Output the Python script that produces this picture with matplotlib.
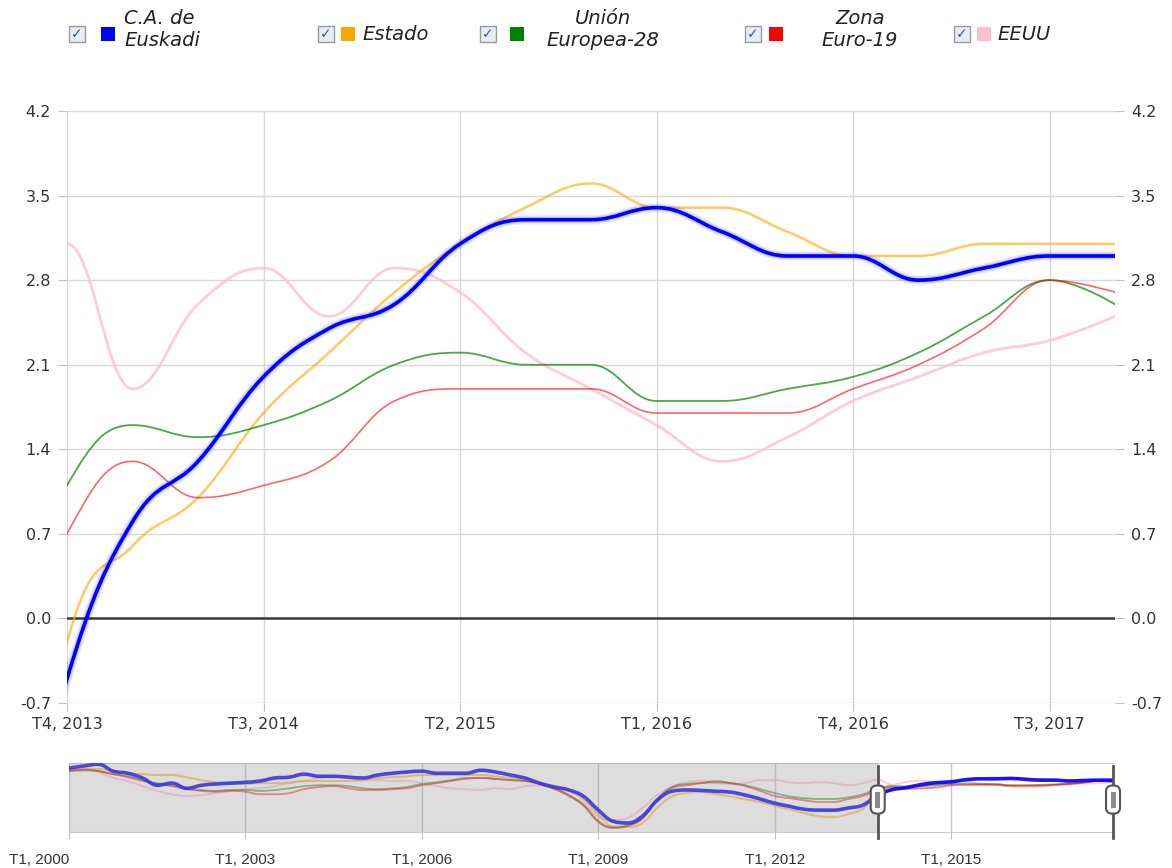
import matplotlib
matplotlib.use("Agg")
import matplotlib.pyplot as plt
from matplotlib.path import Path
from matplotlib.patches import PathPatch, Rectangle, FancyBboxPatch
from matplotlib.transforms import IdentityTransform
import numpy as np

# Crecimiento interanual por trimestre, T1 2000 .. T4 2017 (72 trimestres)
quarters = [f"T{q}, {y}" for y in range(2000, 2018) for q in range(1, 5)]

euskadi = [5.8, 6.3, 6.7, 5.1, 4.6, 3.5, 1.8, 2.3, 1.1, 1.8, 2.1, 2.3, 2.5, 2.8, 3.5, 3.7,
           4.4, 3.9, 3.9, 3.7, 3.5, 4.2, 4.6, 4.9, 5.1, 4.6, 4.6, 4.6, 5.3, 4.9, 4.2, 3.5,
           2.3, 1.4, 0.7, -0.8, -4.0, -6.6, -7.0, -5.4, -1.7, 0.4, 0.7, 0.6, 0.4, 0.2, -0.5, -1.4,
           -2.4, -3.1, -3.8, -4.0, -4.0, -3.5, -2.8,
           -0.5, 0.8, 1.3, 2.0, 2.4, 2.6, 3.1, 3.3, 3.3, 3.4, 3.2, 3.0, 3.0, 2.8, 2.9, 3.0, 3.0]
estado = [5.3, 5.5, 5.6, 5.1, 4.6, 4.4, 4.2, 4.2, 3.7, 3.0, 2.5, 2.3, 2.1, 2.3, 2.3, 2.5,
          2.8, 2.8, 2.8, 2.8, 3.0, 3.5, 3.7, 3.9, 4.2, 4.2, 4.2, 4.2, 4.2, 3.9, 3.5, 3.0,
          2.3, 1.6, 0.5, -1.5, -5.0, -7.8, -7.9, -7.0, -3.5, -0.8, 0.0, 0.2, -0.3, -0.8, -1.5, -2.1,
          -3.0, -3.8, -4.7, -5.4, -5.6, -4.9, -3.6,
          -0.2, 0.6, 1.0, 1.7, 2.2, 2.7, 3.1, 3.4, 3.6, 3.4, 3.4, 3.2, 3.0, 3.0, 3.1, 3.1, 3.1]
ue28 = [5.1, 5.3, 5.1, 4.4, 3.9, 3.0, 2.3, 1.8, 1.1, 0.7, 0.5, 0.7, 0.7, 0.5, 0.7, 1.1,
        1.6, 1.8, 1.8, 1.6, 1.1, 0.9, 1.1, 1.4, 2.1, 2.5, 3.0, 3.5, 3.5, 3.3, 3.0, 2.8,
        2.1, 1.1, -0.5, -2.8, -6.5, -8.0, -7.5, -5.8, -1.5, 1.4, 2.1, 2.3, 2.5, 2.3, 1.8, 0.9,
        0.0, -0.8, -1.2, -1.4, -1.4, -1.0, -0.3,
        1.1, 1.6, 1.5, 1.6, 1.8, 2.1, 2.2, 2.1, 2.1, 1.8, 1.8, 1.9, 2.0, 2.2, 2.5, 2.8, 2.6]
euro19 = [5.3, 5.5, 5.1, 4.4, 3.7, 2.8, 2.1, 1.6, 0.9, 0.5, 0.3, 0.5, 0.3, -0.3, -0.3, 0.0,
          0.9, 1.4, 1.6, 1.1, 0.7, 0.7, 0.9, 1.1, 1.8, 2.3, 2.8, 3.3, 3.5, 3.3, 3.0, 2.8,
          2.1, 0.9, -0.7, -3.0, -6.8, -8.2, -7.7, -6.0, -1.6, 1.1, 1.8, 2.3, 2.8, 2.3, 1.6, 0.5,
          -0.7, -1.2, -1.7, -2.1, -2.1, -1.4, -0.7,
          0.7, 1.3, 1.0, 1.1, 1.3, 1.8, 1.9, 1.9, 1.9, 1.7, 1.7, 1.7, 1.9, 2.1, 2.4, 2.8, 2.7]
eeuu = [5.1, 5.3, 4.9, 3.5, 2.8, 1.6, 0.5, -0.3, -0.7, -0.5, 0.0, 0.5, 0.9, 1.1, 1.6, 2.3,
        2.8, 3.5, 3.9, 3.5, 3.0, 3.0, 2.8, 2.8, 2.3, 1.6, 1.1, 0.9, 0.7, 1.1, 0.9, 1.6,
        1.8, 1.1, -0.5, -2.5, -5.5, -6.3, -5.8, -3.5, -0.5, 1.4, 2.5, 2.8, 2.3, 2.1, 2.3, 3.0,
        3.0, 2.5, 2.3, 2.5, 2.3, 1.8, 2.3,
        3.1, 1.9, 2.6, 2.9, 2.5, 2.9, 2.7, 2.2, 1.9, 1.6, 1.3, 1.5, 1.8, 2.0, 2.2, 2.3, 2.5]

series_names = ["C.A. de Euskadi", "Estado", "Unión Europea-28", "Zona Euro-19", "EEUU"]
series_colors = ["#0000ff", "#ffa500", "#008000", "#ff0000", "#ffc0cb"]

sel_start, sel_end = 55, 71          # T4 2013 .. T4 2017
main_ticks = list(range(55, 71, 3))
nav_ticks = list(range(0, 61, 12))
y_ticks = [-0.7, 0.0, 0.7, 1.4, 2.1, 2.8, 3.5, 4.2]

W, H = 1172, 868


def spline_path(xs, ys, s=1.5):
    # curva suave tipo "spline" (puntos de control como en Highcharts)
    n = len(xs)
    ctrl = []
    for i in range(n):
        x, y = xs[i], ys[i]
        if 0 < i < n - 1:
            lx, ly = xs[i - 1], ys[i - 1]
            nx, ny = xs[i + 1], ys[i + 1]
            lcx, lcy = (s * x + lx) / (s + 1), (s * y + ly) / (s + 1)
            rcx, rcy = (s * x + nx) / (s + 1), (s * y + ny) / (s + 1)
            corr = ((rcy - lcy) * (rcx - x)) / (rcx - lcx) + y - rcy
            lcy += corr
            rcy += corr
            if lcy > ly and lcy > y:
                lcy = max(ly, y); rcy = 2 * y - lcy
            elif lcy < ly and lcy < y:
                lcy = min(ly, y); rcy = 2 * y - lcy
            if rcy > ny and rcy > y:
                rcy = max(ny, y); lcy = 2 * y - rcy
            elif rcy < ny and rcy < y:
                rcy = min(ny, y); lcy = 2 * y - rcy
            ctrl.append(((lcx, lcy), (rcx, rcy)))
        else:
            ctrl.append(((x, y), (x, y)))
    verts = [(xs[0], ys[0])]
    codes = [Path.MOVETO]
    for i in range(1, n):
        verts += [ctrl[i - 1][1], ctrl[i][0], (xs[i], ys[i])]
        codes += [Path.CURVE4] * 3
    return Path(verts, codes)


def draw_series(ax, values, color, lw, alpha=1.0, z=3):
    xs = np.arange(len(values))
    p = PathPatch(spline_path(xs, values), fill=False, ec=color, lw=lw, alpha=alpha,
                  capstyle="round", joinstyle="round", zorder=z)
    ax.add_patch(p)


fig = plt.figure(figsize=(W / 100, H / 100), dpi=100)
plt.rcParams["font.family"] = ["DejaVu Sans"]

# ---- grafico principal
ax = fig.add_axes([67 / W, 1 - 703 / H, 1048 / W, 592 / H])
ax.set_xlim(sel_start, sel_end)
ax.set_ylim(-0.7, 4.2)
for sp in ax.spines.values():
    sp.set_visible(False)
ax.set_axisbelow(True)
ax.grid(color="#d8d8d8", lw=1)
ax.set_yticks(y_ticks)
ax.set_yticklabels([f"{v:.1f}" for v in y_ticks])
ax.set_xticks(main_ticks)
ax.set_xticklabels([quarters[i] for i in main_ticks])
ax.tick_params(axis="y", left=True, right=True, labelleft=True, labelright=True,
               length=6.5, width=0.8, color="#c0c0c0", labelsize=11.5,
               labelcolor="#333333", pad=5)
ax.tick_params(axis="x", length=6, width=0.8, color="#c0c0c0", labelsize=11.5,
               labelcolor="#333333", pad=4)
ax.axhline(0, color="#3a3a3a", lw=1.8, zorder=2)

draw_series(ax, eeuu, series_colors[4], 2.0, 0.8)
draw_series(ax, estado, series_colors[1], 1.8, 0.6)
draw_series(ax, ue28, series_colors[2], 1.3, 0.7)
draw_series(ax, euro19, series_colors[3], 1.2, 0.6)
draw_series(ax, euskadi, series_colors[0], 7, 0.08, z=4)
draw_series(ax, euskadi, series_colors[0], 4.5, 0.15, z=4)
draw_series(ax, euskadi, series_colors[0], 2.6, 1.0, z=5)

# ---- navegador
nav = fig.add_axes([69 / W, 1 - 832 / H, 1044 / W, 69 / H])
nav.set_xlim(0, sel_end)
nav.set_ylim(-9.1, 7.0)
for sp in nav.spines.values():
    sp.set_color("#cccccc")
nav.set_yticks([])
nav.set_xticks(nav_ticks)
nav.set_xticklabels([quarters[i] for i in nav_ticks], family=["Liberation Sans", "DejaVu Sans"])
nav.tick_params(axis="x", length=5, width=0.8, color="#c0c0c0", labelsize=11,
                labelcolor="#333333", pad=10)
nav.get_xticklabels()[0].set_horizontalalignment("right")
nav.grid(axis="x", color="#c8c8c8", lw=1)
nav.set_axisbelow(True)

draw_series(nav, eeuu, series_colors[4], 1.5, 0.8)
draw_series(nav, estado, series_colors[1], 1.5, 0.6)
draw_series(nav, ue28, series_colors[2], 1.3, 0.55)
draw_series(nav, euro19, series_colors[3], 1.3, 0.55)
draw_series(nav, euskadi, series_colors[0], 2.6, 0.9, z=4)
nav.axvspan(0, sel_start, color="#a0a0a0", alpha=0.35, lw=0, zorder=6)

for xv in (sel_start, sel_end):
    nav.axvline(xv, ymin=-0.08, ymax=0.96, color="#555555", lw=2, clip_on=False, zorder=7)
    xd = nav.transData.transform((xv, 0))[0]
    yd = nav.transAxes.transform((0, 0.47))[1]
    fig.add_artist(FancyBboxPatch((xd - 7, yd - 14), 14, 28,
                                  boxstyle="round,pad=0,rounding_size=6",
                                  fc="white", ec="#555555", lw=1.5,
                                  transform=IdentityTransform(), zorder=8))
    fig.add_artist(Rectangle((xd - 2.5, yd - 8), 5, 16, fc="#8a8a8a", ec="none",
                             transform=IdentityTransform(), zorder=9))

# ---- leyenda
legend_cb_x = [69, 318, 480, 745, 954]
legend_sq_x = [101, 341, 510, 769, 977]
legend_lines = [["C.A. de", "Euskadi"], ["Estado"], ["Unión", "Europea-28"],
                ["Zona", "Euro-19"], ["EEUU"]]
legend_text_x = [124, 362, 603, 860, 997]
legend_align = ["left", "left", "center", "center", "left"]
legend_y = 34


def px(x, y):
    return x, H - y


for i in range(5):
    cx = legend_cb_x[i]
    fig.add_artist(Rectangle(px(cx, legend_y + 8), 16, 16, fc="#e8ecf4", ec="#9a9a9a",
                             lw=1, transform=IdentityTransform()))
    fig.text((cx + 8) / W, 1 - legend_y / H, "✓", fontsize=10, color="#3c5a96",
             ha="center", va="center", fontweight="bold")
    sx = legend_sq_x[i]
    fig.add_artist(Rectangle(px(sx, legend_y + 7), 14, 14, fc=series_colors[i], ec="none",
                             transform=IdentityTransform()))
    lines = legend_lines[i]
    if len(lines) == 1:
        ys = [legend_y]
    else:
        ys = [legend_y - 15, legend_y + 7]
    for t, yy in zip(lines, ys):
        fig.text(legend_text_x[i] / W, 1 - yy / H, t, fontsize=14, style="italic",
                 color="#222222", ha=legend_align[i], va="center")

fig.savefig("out.png", dpi=100, facecolor="white")
